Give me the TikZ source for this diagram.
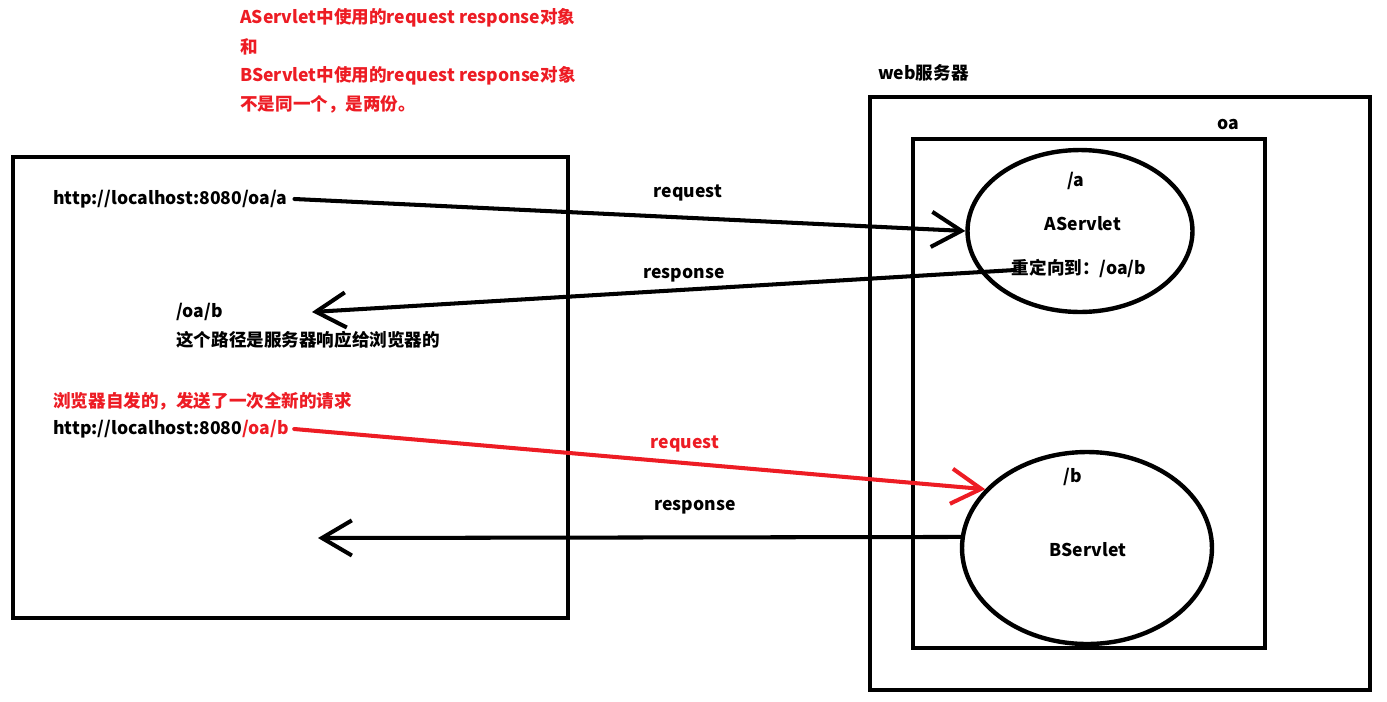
\documentclass[tikz,border=0pt]{standalone}
\usepackage{fontspec}
\setmainfont{Noto Sans CJK SC}
\usepackage{xcolor}
\usetikzlibrary{arrows.meta, shapes.geometric, positioning}
\definecolor{rot}{RGB}{237,28,36}

\tikzset{
  txt/.style={font=\bfseries\fontsize{10}{12}\selectfont, inner sep=0pt},
  lbl/.style={txt, anchor=west},
  kasten/.style={line width=2.6pt},
  servlet/.style={ellipse, draw, line width=2.5pt, inner sep=0pt},
  pfeil/.style={line width=2.3pt, line cap=round, -{Straight Barb[length=17pt, width=20pt, line width=2.3pt]}}
}

\begin{document}
\begin{tikzpicture}[x=0.02cm, y=-0.02cm]
  \useasboundingbox (0,0) rectangle (1387,701);
  % Hinweis
  \node[lbl, text=rot] (noteA) at (240,18) {AServlet中使用的request response对象};
  \node[lbl, text=rot] (noteHe) at (240,47) {和};
  \node[lbl, text=rot] (noteB) at (240,76) {BServlet中使用的request response对象};
  \node[lbl, text=rot] (noteC) at (240,104) {不是同一个，是两份。};
  % Browser
  \draw[kasten] (13,157) rectangle (568,618);
  \node[lbl] (urlA) at (53,199) {http://localhost:8080/oa/a};
  \node[lbl] (pathB) at (176,312) {/oa/b};
  \node[lbl] (pathNote) at (176,340) {这个路径是服务器响应给浏览器的};
  \node[lbl, text=rot] (newReq) at (53,401) {浏览器自发的，发送了一次全新的请求};
  \node[lbl] (urlB) at (53,429) {http://localhost:8080\textcolor{rot}{/oa/b}};
  % Server
  \node[lbl] (web) at (878,73) {web服务器};
  \draw[kasten] (870,97) rectangle (1370,690);
  \node[txt] (oa) at (1228,124) {oa};
  \draw[kasten] (913,139) rectangle (1265,648);
  \node[servlet, minimum width=4.5cm, minimum height=3.24cm] (srvA) at (1080,231) {};
  \node[txt] (pathA) at (1076,181) {/a};
  \node[txt] (nameA) at (1083,224) {AServlet};
  \node[txt] (redir) at (1079,268) {重定向到：/oa/b};
  \node[servlet, minimum width=5cm, minimum height=3.84cm] (srvB) at (1087,548) {};
  \node[txt] (pathBs) at (1073,477) {/b};
  \node[txt] (nameB) at (1088,550) {BServlet};
  % Pfeile
  \coordinate (redirStart) at (1015,270);
  \coordinate (tipA) at (312,312);
  \coordinate (tipB) at (318,538);
  \draw[pfeil] ([xshift=4pt]urlA.east) -- (srvA.west);
  \node[txt] (reqA) at (688,193) {request};
  \draw[pfeil] (redirStart) -- (tipA);
  \node[txt] (respA) at (684,275) {response};
  \draw[pfeil, rot] ([xshift=3pt]urlB.east) -- (srvB.150);
  \node[txt, text=rot] (reqB) at (685,444) {request};
  \draw[pfeil] (srvB.175) -- (tipB);
  \node[txt] (respB) at (695,507) {response};
\end{tikzpicture}
\end{document}
